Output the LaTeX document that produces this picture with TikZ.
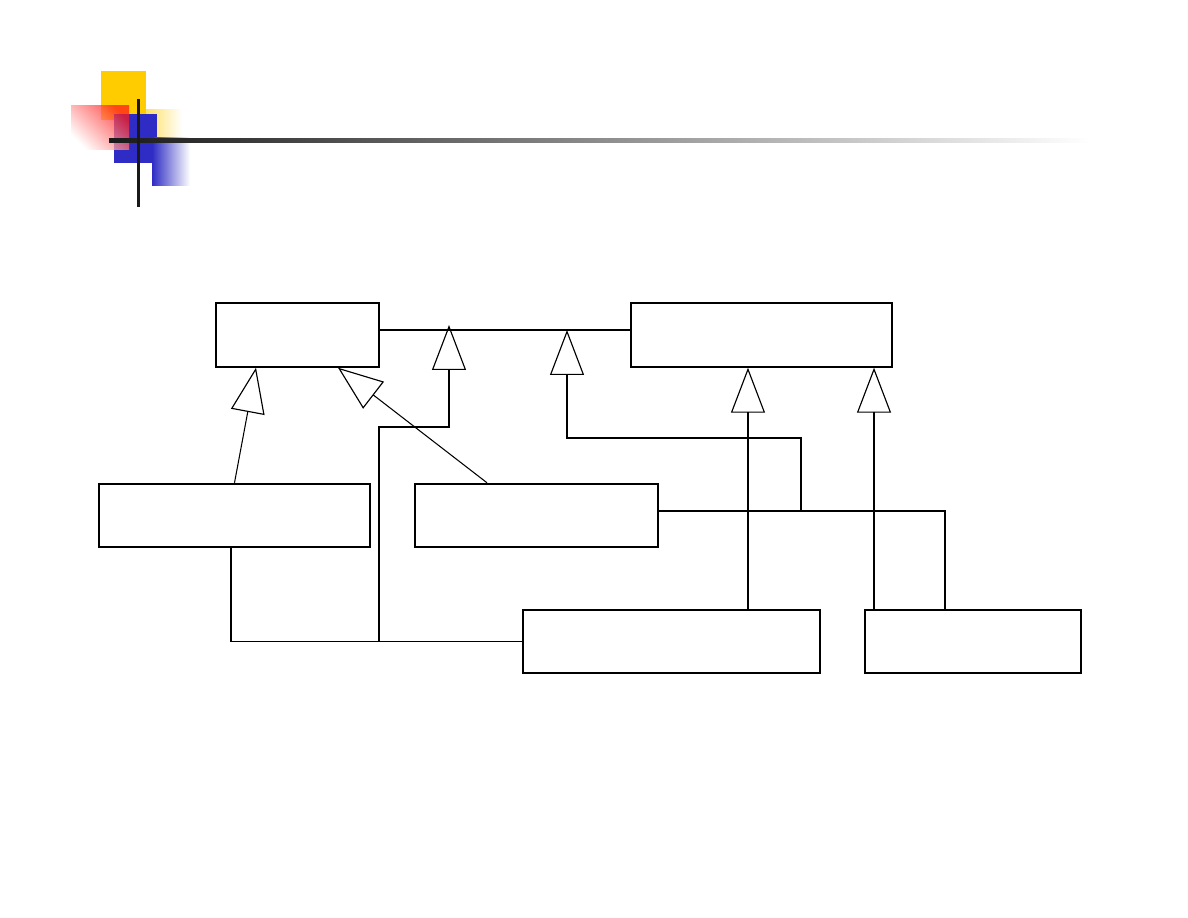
\documentclass[tikz,border=0pt]{standalone}
\usetikzlibrary{arrows.meta, positioning, calc}

\definecolor{deckyellow}{RGB}{255,204,0}
\definecolor{deckblue}{RGB}{46,44,196}
\definecolor{deckred}{RGB}{255,26,26}

\begin{document}
\begin{tikzpicture}[
    x=0.02cm, y=-0.02cm,
    cls/.style={draw, line width=1.1pt, minimum height=1.27cm, inner sep=0pt},
    link/.style={line width=1pt},
    thinlink/.style={line width=0.6pt},
    inh/.style={-{Triangle[open, length=0.9cm, width=0.68cm, line width=0.65pt]}}
  ]
  \useasboundingbox (0,0) rectangle (1188,918);

  % slide ornament
  \fill[deckyellow] (101,71) rectangle (146,120);
  \shade[left color=deckyellow!60, right color=white] (146,110) rectangle (182,138);
  \fill[deckblue] (114,114) rectangle (157,163);
  \shade[left color=deckblue, right color=white] (152,138) rectangle (190,186);
  \shade[fill opacity=0.75, top color=deckred, bottom color=white,
         shading angle=-45] (71,106) rectangle (129,150);
  \shade[left color=black!90, right color=white] (109,139) rectangle (1090,143);
  \fill[black!90] (136.5,99) rectangle (139.5,207);

  % classes
  \node[cls, minimum width=3.26cm] (A) at (297.5,335) {};
  \node[cls, minimum width=5.22cm] (B) at (761.5,335) {};
  \node[cls, minimum width=5.42cm] (C) at (234.5,515.5) {};
  \node[cls, minimum width=4.86cm] (D) at (536.5,515.5) {};
  \node[cls, minimum width=5.94cm] (E) at (671.5,641.5) {};
  \node[cls, minimum width=4.32cm] (F) at (973,641.5) {};

  \coordinate (t1) at (449,325);
  \coordinate (t2) at (567,330);
  \coordinate (m1) at (379,641.5);
  \coordinate (m2) at (801,511);

  \draw[link] ([yshift=0.1cm]A.east) -- ([yshift=0.1cm]B.west);

  \draw[thinlink, inh] (C.north) -- ([xshift=-0.83cm]A.south);
  \draw[thinlink, inh] ([xshift=-0.99cm]D.north) -- ([xshift=0.81cm]A.south);

  \draw[thinlink] ([xshift=-0.07cm]C.south) |- (E.west);
  \draw[link, inh] (m1) -- ++(0,-214.5) -| (t1);

  \draw[link] ([yshift=0.09cm]D.east) -| ([xshift=-0.56cm]F.north);
  \draw[link, inh] (m2) -- ++(0,-73) -| (t2);

  \draw[link, inh] ([xshift=1.53cm]E.north) -- ([xshift=1.53cm]E.north |- B.south);
  \draw[link, inh] ([xshift=-1.98cm]F.north) -- ([xshift=-1.98cm]F.north |- B.south);
\end{tikzpicture}
\end{document}
